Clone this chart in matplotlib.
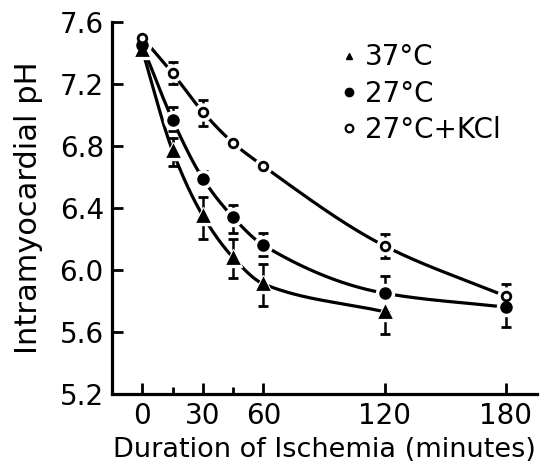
import numpy as np
import matplotlib
matplotlib.use("Agg")
import matplotlib.pyplot as plt
from matplotlib.lines import Line2D

# Data (minutes, pH, SEM up / down)
t_37 = [0, 15, 30, 45, 60, 120]
ph_37 = [7.42, 6.77, 6.35, 6.08, 5.91, 5.73]
up_37 = [0, 0.08, 0.12, 0.12, 0.13, 0]
dn_37 = [0, 0.10, 0.15, 0.13, 0.14, 0.14]

t_27 = [0, 15, 30, 45, 60, 120, 180]
ph_27 = [7.45, 6.97, 6.59, 6.34, 6.16, 5.85, 5.76]
up_27 = [0, 0.08, 0.05, 0.08, 0.08, 0.11, 0]
dn_27 = [0, 0.07, 0.05, 0.10, 0.07, 0, 0.13]

t_kcl = [0, 15, 30, 45, 60, 120, 180]
ph_kcl = [7.50, 7.27, 7.02, 6.82, 6.67, 6.155, 5.83]
up_kcl = [0, 0.07, 0.08, 0.04, 0.03, 0.08, 0.08]
dn_kcl = [0, 0.07, 0.09, 0.04, 0.03, 0.08, 0]

labels = ["37°C", "27°C", "27°C+KCl"]
xticks = [0, 30, 60, 120, 180]
yticks = [5.2, 5.6, 6.0, 6.4, 6.8, 7.2, 7.6]


def pchip(x, y, xs):
    # monotone cubic through the data points
    x = np.asarray(x, float)
    y = np.asarray(y, float)
    h = np.diff(x)
    d = np.diff(y) / h
    m = np.zeros_like(y)
    m[0], m[-1] = d[0], d[-1]
    for k in range(1, len(x) - 1):
        if d[k - 1] * d[k] > 0:
            w1 = 2 * h[k] + h[k - 1]
            w2 = h[k] + 2 * h[k - 1]
            m[k] = (w1 + w2) / (w1 / d[k - 1] + w2 / d[k])
    i = np.clip(np.searchsorted(x, xs) - 1, 0, len(x) - 2)
    s = (xs - x[i]) / h[i]
    h00 = 2 * s**3 - 3 * s**2 + 1
    h10 = s**3 - 2 * s**2 + s
    h01 = -2 * s**3 + 3 * s**2
    h11 = s**3 - s**2
    return h00 * y[i] + h10 * h[i] * m[i] + h01 * y[i + 1] + h11 * h[i] * m[i + 1]


plt.rcParams['font.family'] = ['DejaVu Sans']
fig = plt.figure(figsize=(5.47, 4.69), dpi=100)
ax = fig.add_axes([0.205, 0.160, 0.777, 0.793])

series = [
    (t_37, ph_37, up_37, dn_37, '^', 'k', 7),
    (t_27, ph_27, up_27, dn_27, 'o', 'k', 7),
    (t_kcl, ph_kcl, up_kcl, dn_kcl, 'o', 'w', 6.2),
]

for t, ph, up, dn, mk, fc, ms in series:
    xs = np.linspace(t[0], t[-1], 400)
    ax.plot(xs, pchip(t, ph, xs), color='k', lw=2.3, zorder=1)
    ax.errorbar(t, ph, yerr=[dn, up], fmt='none', ecolor='k', elinewidth=1.8,
                capsize=3.5, capthick=2.0, zorder=2)
    ax.plot(t, ph, ls='none', marker=mk, ms=ms + 6, mfc='w', mec='w', zorder=3)
    ax.plot(t, ph, ls='none', marker=mk, ms=ms, mfc=fc, mec='k', mew=2.0, zorder=4)

handles = [
    Line2D([], [], ls='none', marker='^', ms=5, mfc='k', mec='k'),
    Line2D([], [], ls='none', marker='o', ms=6, mfc='k', mec='k'),
    Line2D([], [], ls='none', marker='o', ms=5.5, mfc='w', mec='k', mew=1.6),
]
ax.legend(handles, labels, loc='upper left', bbox_to_anchor=(0.504, 0.98),
          frameon=False, fontsize=20, handlelength=0.6, handletextpad=0.3,
          labelspacing=0.3, borderpad=0)

ax.set_xlim(-14.9, 195.5)
ax.set_ylim(5.2, 7.6)
ax.set_xticks(xticks)
ax.set_xticks([15, 45], minor=True)
ax.set_yticks(yticks)
ax.set_yticklabels([f"{v:.1f}" for v in yticks])
ax.tick_params(axis='both', which='major', direction='in', length=8, width=2,
               labelsize=20, pad=6)
ax.tick_params(axis='x', which='minor', direction='in', length=5, width=2)
for side in ['top', 'right']:
    ax.spines[side].set_visible(False)
for side in ['left', 'bottom']:
    ax.spines[side].set_linewidth(2.3)

ax.set_xlabel("Duration of Ischemia (minutes)", fontsize=19.5, labelpad=5)
ax.set_ylabel("Intramyocardial pH", fontsize=22, labelpad=12)

fig.savefig("out.png", dpi=100)
